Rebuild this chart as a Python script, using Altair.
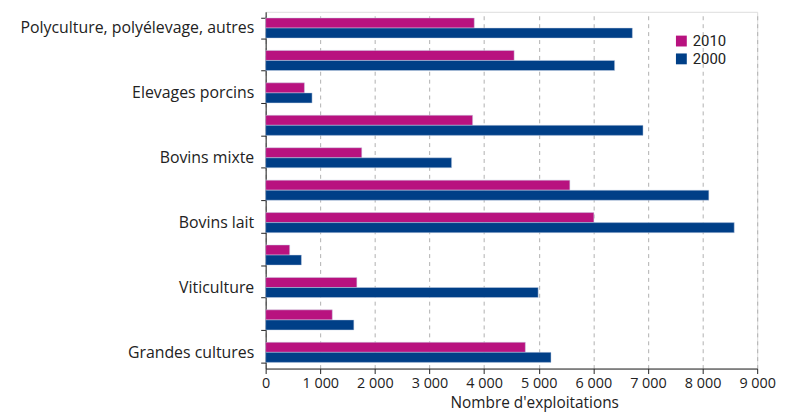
import altair as alt
import pandas as pd

categories = [
    "Polyculture, polyélevage, autres",
    "Elevages hors sol",
    "Elevages porcins",
    "Ovins, caprins",
    "Bovins mixte",
    "Bovins viande",
    "Bovins lait",
    "Fruits",
    "Viticulture",
    "Maraîchage, horticulture",
    "Grandes cultures",
]
shown_labels = [
    "Polyculture, polyélevage, autres",
    "Elevages porcins",
    "Bovins mixte",
    "Bovins lait",
    "Viticulture",
    "Grandes cultures",
]
values_2010 = [3820, 4550, 710, 3790, 1760, 5570, 6010, 440, 1670, 1220, 4755]
values_2000 = [6715, 6390, 850, 6910, 3405, 8115, 8580, 655, 4990, 1615, 5225]
years = ["2010", "2000"]
x_ticks = [0, 1000, 2000, 3000, 4000, 5000, 6000, 7000, 8000, 9000]

rows = []
for c, v1, v0 in zip(categories, values_2010, values_2000):
    rows.append({"cat": c, "year": "2010", "val": v1})
    rows.append({"cat": c, "year": "2000", "val": v0})
df = pd.DataFrame(rows)

label_list = "[" + ",".join("'" + s + "'" for s in shown_labels) + "]"

chart = alt.Chart(df).mark_bar(
    stroke="#c9d3e6", strokeWidth=0.6, strokeOpacity=0.8
).encode(
    y=alt.Y(
        "cat:N",
        sort=categories,
        scale=alt.Scale(paddingInner=0.38, paddingOuter=0.19),
        axis=alt.Axis(
            title=None,
            tickBand="extent",
            labelExpr=f"indexof({label_list}, datum.value) >= 0 ? datum.label : ''",
            labelFontSize=16,
            labelColor="#222222",
            labelFont="Open Sans",
            labelPadding=7,
            tickColor="#222222",
            tickSize=5,
            domainColor="#222222",
            grid=False,
            labelLimit=300,
        ),
    ),
    yOffset=alt.YOffset("year:N", sort=years),
    x=alt.X(
        "val:Q",
        scale=alt.Scale(domain=[0, 9000], nice=False),
        axis=alt.Axis(
            title="Nombre d'exploitations",
            values=x_ticks,
            labelExpr="replace(format(datum.value, ','), ',', ' ')",
            labelFontSize=14.5,
            labelColor="#222222",
            labelFont="Open Sans",
            labelPadding=3,
            titleFont="Open Sans",
            titleFontSize=15.5,
            titleFontWeight="normal",
            titleColor="#222222",
            titlePadding=6,
            titleX=271,
            titleAlign="center",
            tickColor="#222222",
            tickSize=5,
            domainColor="#222222",
            grid=True,
            gridDash=[4, 4],
            gridColor="#b0b0b0",
            labelFlush=False,
        ),
    ),
    color=alt.Color(
        "year:N",
        sort=years,
        scale=alt.Scale(domain=years, range=["#b8127f", "#003f87"]),
        legend=alt.Legend(
            title=None,
            orient="none",
            legendX=412,
            legendY=22,
            symbolType="square",
            symbolSize=120,
            symbolStrokeWidth=0,
            labelFontSize=15,
            labelFont="Roboto",
            labelColor="#222222",
            rowPadding=2,
        ),
    ),
).properties(
    width=496,
    height=360,
    autosize=alt.AutoSizeParams(type="none"),
    padding={"left": 260, "top": 2, "right": 20, "bottom": 44},
).configure_view(stroke=None).configure(background="white")

chart.save("out.html", embed_options={"renderer": "svg", "actions": False})
